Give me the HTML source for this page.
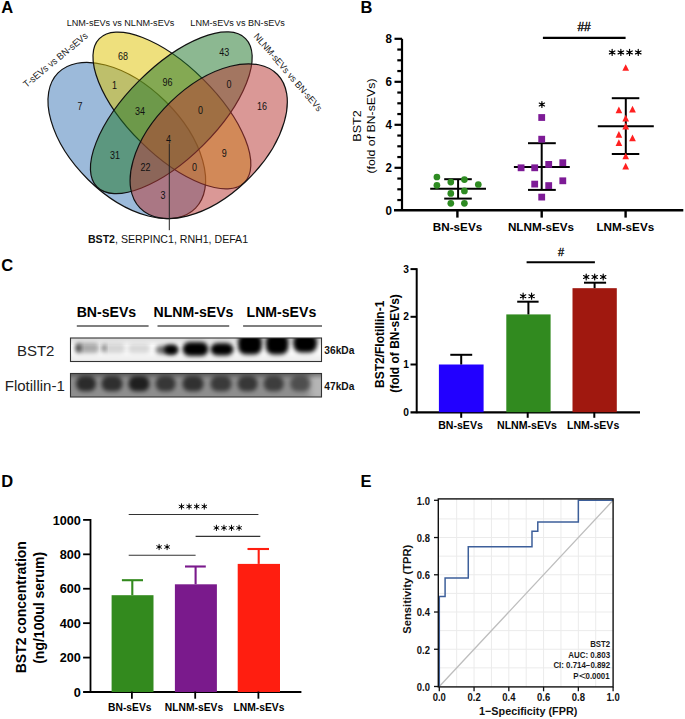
<!DOCTYPE html>
<html><head><meta charset="utf-8"><style>
html,body{margin:0;padding:0;background:#fff;}
svg{display:block;}
text{font-family:"Liberation Sans",sans-serif;}
</style></head><body>
<svg width="685" height="719" viewBox="0 0 685 719">
<rect width="685" height="719" fill="#fff"/>
<text x="1.20" y="13.20" font-size="16.5" font-weight="bold" text-anchor="start" fill="#000" >A</text>
<text x="360.50" y="13.20" font-size="16.5" font-weight="bold" text-anchor="start" fill="#000" >B</text>
<text x="1.20" y="270.80" font-size="16.5" font-weight="bold" text-anchor="start" fill="#000" >C</text>
<text x="1.20" y="487.30" font-size="16.5" font-weight="bold" text-anchor="start" fill="#000" >D</text>
<text x="360.50" y="486.80" font-size="16.5" font-weight="bold" text-anchor="start" fill="#000" >E</text>
<ellipse cx="126.80" cy="140.50" rx="96.40" ry="55.00" transform="rotate(44.5 126.80 140.50)" fill="rgb(66,122,184)" fill-opacity="0.52" stroke="#111" stroke-width="1.2"/>
<ellipse cx="171.90" cy="110.50" rx="102.10" ry="44.20" transform="rotate(44.7 171.90 110.50)" fill="rgb(222,195,5)" fill-opacity="0.52" stroke="#111" stroke-width="1.2"/>
<ellipse cx="171.30" cy="112.80" rx="105.00" ry="45.40" transform="rotate(-45.0 171.30 112.80)" fill="rgb(34,118,45)" fill-opacity="0.52" stroke="#111" stroke-width="1.2"/>
<ellipse cx="208.70" cy="141.20" rx="95.80" ry="54.70" transform="rotate(-44.1 208.70 141.20)" fill="rgb(184,57,53)" fill-opacity="0.52" stroke="#111" stroke-width="1.2"/>
<text x="0.00" y="0.00" font-size="10.2" text-anchor="middle" fill="#111" transform="translate(122.90,59.50) scale(0.88,1.06)" >68</text>
<text x="0.00" y="0.00" font-size="10.2" text-anchor="middle" fill="#111" transform="translate(224.30,56.10) scale(0.88,1.06)" >43</text>
<text x="0.00" y="0.00" font-size="10.2" text-anchor="middle" fill="#111" transform="translate(114.50,88.90) scale(0.88,1.06)" >1</text>
<text x="0.00" y="0.00" font-size="10.2" text-anchor="middle" fill="#111" transform="translate(167.60,85.80) scale(0.88,1.06)" >96</text>
<text x="0.00" y="0.00" font-size="10.2" text-anchor="middle" fill="#111" transform="translate(229.10,88.30) scale(0.88,1.06)" >0</text>
<text x="0.00" y="0.00" font-size="10.2" text-anchor="middle" fill="#111" transform="translate(79.90,109.90) scale(0.88,1.06)" >7</text>
<text x="0.00" y="0.00" font-size="10.2" text-anchor="middle" fill="#111" transform="translate(140.00,114.50) scale(0.88,1.06)" >34</text>
<text x="0.00" y="0.00" font-size="10.2" text-anchor="middle" fill="#111" transform="translate(200.50,114.10) scale(0.88,1.06)" >0</text>
<text x="0.00" y="0.00" font-size="10.2" text-anchor="middle" fill="#111" transform="translate(261.90,109.70) scale(0.88,1.06)" >16</text>
<text x="0.00" y="0.00" font-size="10.2" text-anchor="middle" fill="#111" transform="translate(168.60,142.50) scale(0.88,1.06)" >4</text>
<text x="0.00" y="0.00" font-size="10.2" text-anchor="middle" fill="#111" transform="translate(115.00,159.30) scale(0.88,1.06)" >31</text>
<text x="0.00" y="0.00" font-size="10.2" text-anchor="middle" fill="#111" transform="translate(145.50,170.70) scale(0.88,1.06)" >22</text>
<text x="0.00" y="0.00" font-size="10.2" text-anchor="middle" fill="#111" transform="translate(194.60,170.70) scale(0.88,1.06)" >0</text>
<text x="0.00" y="0.00" font-size="10.2" text-anchor="middle" fill="#111" transform="translate(224.30,156.90) scale(0.88,1.06)" >9</text>
<text x="0.00" y="0.00" font-size="10.2" text-anchor="middle" fill="#111" transform="translate(163.00,199.10) scale(0.88,1.06)" >3</text>
<text x="0.00" y="0.00" font-size="9.1" text-anchor="middle" fill="#111" transform="translate(120.50,26.40) scale(1,1.08)" >LNM-sEVs vs NLNM-sEVs</text>
<text x="0.00" y="0.00" font-size="9.1" text-anchor="middle" fill="#111" transform="translate(237.60,26.40) scale(1,1.08)" >LNM-sEVs vs BN-sEVs</text>
<text x="0.00" y="0.00" font-size="9.1" text-anchor="middle" fill="#222" transform="translate(57.50,62.50) rotate(-39.5) scale(1,1.05)" >T-sEVs vs BN-sEVs</text>
<text x="0.00" y="0.00" font-size="8.95" text-anchor="middle" fill="#222" transform="translate(285.60,74.40) rotate(49.3) scale(1,1.05)" >NLNM-sEVs vs BN-sEVs</text>
<line x1="169.30" y1="143.50" x2="169.30" y2="230.20" stroke="#222" stroke-width="1" />
<text x="168" y="242.8" font-size="10.6" text-anchor="middle" fill="#111"><tspan font-weight="bold">BST2</tspan>, SERPINC1, RNH1, DEFA1</text>
<line x1="402.00" y1="38.80" x2="402.00" y2="211.00" stroke="#000" stroke-width="2.2" />
<line x1="394.00" y1="210.20" x2="683.30" y2="210.20" stroke="#000" stroke-width="2.4" />
<line x1="394.50" y1="167.80" x2="402.00" y2="167.80" stroke="#000" stroke-width="2.2" />
<line x1="394.50" y1="124.80" x2="402.00" y2="124.80" stroke="#000" stroke-width="2.2" />
<line x1="394.50" y1="81.80" x2="402.00" y2="81.80" stroke="#000" stroke-width="2.2" />
<line x1="394.50" y1="38.80" x2="402.00" y2="38.80" stroke="#000" stroke-width="2.2" />
<line x1="397.30" y1="200.05" x2="402.00" y2="200.05" stroke="#000" stroke-width="2.2" />
<line x1="397.30" y1="189.30" x2="402.00" y2="189.30" stroke="#000" stroke-width="2.2" />
<line x1="397.30" y1="178.55" x2="402.00" y2="178.55" stroke="#000" stroke-width="2.2" />
<line x1="397.30" y1="157.05" x2="402.00" y2="157.05" stroke="#000" stroke-width="2.2" />
<line x1="397.30" y1="146.30" x2="402.00" y2="146.30" stroke="#000" stroke-width="2.2" />
<line x1="397.30" y1="135.55" x2="402.00" y2="135.55" stroke="#000" stroke-width="2.2" />
<line x1="397.30" y1="114.05" x2="402.00" y2="114.05" stroke="#000" stroke-width="2.2" />
<line x1="397.30" y1="103.30" x2="402.00" y2="103.30" stroke="#000" stroke-width="2.2" />
<line x1="397.30" y1="92.55" x2="402.00" y2="92.55" stroke="#000" stroke-width="2.2" />
<line x1="397.30" y1="71.05" x2="402.00" y2="71.05" stroke="#000" stroke-width="2.2" />
<line x1="397.30" y1="60.30" x2="402.00" y2="60.30" stroke="#000" stroke-width="2.2" />
<line x1="397.30" y1="49.55" x2="402.00" y2="49.55" stroke="#000" stroke-width="2.2" />
<text x="0.00" y="0.00" font-size="11.6" font-weight="bold" text-anchor="end" fill="#000" transform="translate(391.90,215.30) scale(1,1.17)" >0</text>
<text x="0.00" y="0.00" font-size="11.6" font-weight="bold" text-anchor="end" fill="#000" transform="translate(391.90,172.30) scale(1,1.17)" >2</text>
<text x="0.00" y="0.00" font-size="11.6" font-weight="bold" text-anchor="end" fill="#000" transform="translate(391.90,129.30) scale(1,1.17)" >4</text>
<text x="0.00" y="0.00" font-size="11.6" font-weight="bold" text-anchor="end" fill="#000" transform="translate(391.90,86.30) scale(1,1.17)" >6</text>
<text x="0.00" y="0.00" font-size="11.6" font-weight="bold" text-anchor="end" fill="#000" transform="translate(391.90,43.30) scale(1,1.17)" >8</text>
<line x1="457.40" y1="210.00" x2="457.40" y2="217.60" stroke="#000" stroke-width="2.4" />
<line x1="541.70" y1="210.00" x2="541.70" y2="217.60" stroke="#000" stroke-width="2.4" />
<line x1="625.60" y1="210.00" x2="625.60" y2="217.60" stroke="#000" stroke-width="2.4" />
<text x="457.50" y="231.20" font-size="11.7" font-weight="bold" text-anchor="middle" fill="#000" >BN-sEVs</text>
<text x="541.00" y="231.20" font-size="11.7" font-weight="bold" text-anchor="middle" fill="#000" >NLNM-sEVs</text>
<text x="625.30" y="231.20" font-size="11.7" font-weight="bold" text-anchor="middle" fill="#000" >LNM-sEVs</text>
<text x="0.00" y="0.00" font-size="12" text-anchor="middle" fill="#000" transform="translate(361.30,126.00) rotate(-90) scale(1.05,0.97)" >BST2</text>
<text x="0.00" y="0.00" font-size="12" text-anchor="middle" fill="#000" transform="translate(374.70,126.00) rotate(-90) scale(1.026,0.91)" >(fold of BN-sEVs)</text>
<line x1="430.20" y1="188.80" x2="486.00" y2="188.80" stroke="#000" stroke-width="2" />
<line x1="444.20" y1="179.20" x2="471.80" y2="179.20" stroke="#000" stroke-width="2" />
<line x1="444.20" y1="198.60" x2="471.80" y2="198.60" stroke="#000" stroke-width="2" />
<line x1="458.10" y1="179.20" x2="458.10" y2="198.60" stroke="#000" stroke-width="2" />
<line x1="513.90" y1="166.90" x2="569.80" y2="166.90" stroke="#000" stroke-width="2" />
<line x1="528.00" y1="143.20" x2="555.80" y2="143.20" stroke="#000" stroke-width="2" />
<line x1="528.00" y1="189.90" x2="555.80" y2="189.90" stroke="#000" stroke-width="2" />
<line x1="541.70" y1="143.20" x2="541.70" y2="189.90" stroke="#000" stroke-width="2" />
<line x1="597.80" y1="126.20" x2="653.80" y2="126.20" stroke="#000" stroke-width="2" />
<line x1="611.80" y1="98.20" x2="639.30" y2="98.20" stroke="#000" stroke-width="2" />
<line x1="611.80" y1="154.00" x2="639.30" y2="154.00" stroke="#000" stroke-width="2" />
<line x1="625.80" y1="98.20" x2="625.80" y2="154.00" stroke="#000" stroke-width="2" />
<circle cx="436.9" cy="177.0" r="3.35" fill="#2e8b22"/>
<circle cx="436.9" cy="185.3" r="3.35" fill="#2e8b22"/>
<circle cx="450.8" cy="182.1" r="3.35" fill="#2e8b22"/>
<circle cx="450.8" cy="193.4" r="3.35" fill="#2e8b22"/>
<circle cx="450.8" cy="203.3" r="3.35" fill="#2e8b22"/>
<circle cx="464.4" cy="179.6" r="3.35" fill="#2e8b22"/>
<circle cx="464.4" cy="190.9" r="3.35" fill="#2e8b22"/>
<circle cx="464.4" cy="203.3" r="3.35" fill="#2e8b22"/>
<circle cx="478.3" cy="184.5" r="3.35" fill="#2e8b22"/>
<rect x="538.30" y="114.10" width="6.8" height="6.8" fill="#7d1a96"/>
<rect x="538.30" y="135.80" width="6.8" height="6.8" fill="#7d1a96"/>
<rect x="517.70" y="164.40" width="6.8" height="6.8" fill="#7d1a96"/>
<rect x="531.30" y="164.40" width="6.8" height="6.8" fill="#7d1a96"/>
<rect x="545.30" y="161.00" width="6.8" height="6.8" fill="#7d1a96"/>
<rect x="531.30" y="180.70" width="6.8" height="6.8" fill="#7d1a96"/>
<rect x="545.30" y="182.20" width="6.8" height="6.8" fill="#7d1a96"/>
<rect x="538.30" y="193.70" width="6.8" height="6.8" fill="#7d1a96"/>
<rect x="559.40" y="159.30" width="6.8" height="6.8" fill="#7d1a96"/>
<rect x="559.40" y="177.40" width="6.8" height="6.8" fill="#7d1a96"/>
<polygon points="625.70,64.15 629.05,70.85 622.35,70.85" fill="#ff2020"/>
<polygon points="618.90,106.45 622.25,113.15 615.55,113.15" fill="#ff2020"/>
<polygon points="632.50,105.75 635.85,112.45 629.15,112.45" fill="#ff2020"/>
<polygon points="625.70,114.85 629.05,121.55 622.35,121.55" fill="#ff2020"/>
<polygon points="625.70,122.85 629.05,129.55 622.35,129.55" fill="#ff2020"/>
<polygon points="618.90,131.05 622.25,137.75 615.55,137.75" fill="#ff2020"/>
<polygon points="632.50,134.45 635.85,141.15 629.15,141.15" fill="#ff2020"/>
<polygon points="618.90,139.35 622.25,146.05 615.55,146.05" fill="#ff2020"/>
<polygon points="625.70,152.65 629.05,159.35 622.35,159.35" fill="#ff2020"/>
<polygon points="625.70,162.85 629.05,169.55 622.35,169.55" fill="#ff2020"/>
<path d="M541.90,101.50L541.90,107.50M539.25,103.09L544.55,105.91M544.55,103.09L539.25,105.91" stroke="#000" stroke-width="1.19" stroke-linecap="round" fill="none"/>
<circle cx="541.90" cy="104.50" r="1.26" fill="#000"/>
<path d="M612.15,49.30L612.15,55.50M609.41,50.94L614.89,53.86M614.89,50.94L609.41,53.86" stroke="#000" stroke-width="1.19" stroke-linecap="round" fill="none"/>
<circle cx="612.15" cy="52.40" r="1.30" fill="#000"/>
<path d="M620.85,49.30L620.85,55.50M618.11,50.94L623.59,53.86M623.59,50.94L618.11,53.86" stroke="#000" stroke-width="1.19" stroke-linecap="round" fill="none"/>
<circle cx="620.85" cy="52.40" r="1.30" fill="#000"/>
<path d="M629.55,49.30L629.55,55.50M626.81,50.94L632.29,53.86M632.29,50.94L626.81,53.86" stroke="#000" stroke-width="1.19" stroke-linecap="round" fill="none"/>
<circle cx="629.55" cy="52.40" r="1.30" fill="#000"/>
<path d="M638.25,49.30L638.25,55.50M635.51,50.94L640.99,53.86M640.99,50.94L635.51,53.86" stroke="#000" stroke-width="1.19" stroke-linecap="round" fill="none"/>
<circle cx="638.25" cy="52.40" r="1.30" fill="#000"/>
<line x1="542.90" y1="37.90" x2="625.60" y2="37.90" stroke="#000" stroke-width="2.1" />
<text x="584.10" y="30.60" font-size="12" text-anchor="middle" fill="#000" stroke="#000" stroke-width="0.35">##</text>
<text x="106.40" y="317.30" font-size="14.1" font-weight="bold" text-anchor="middle" fill="#000" >BN-sEVs</text>
<text x="193.50" y="317.30" font-size="14.1" font-weight="bold" text-anchor="middle" fill="#000" >NLNM-sEVs</text>
<text x="281.40" y="317.30" font-size="14.1" font-weight="bold" text-anchor="middle" fill="#000" >LNM-sEVs</text>
<line x1="76.80" y1="326.00" x2="148.60" y2="326.00" stroke="#555" stroke-width="1.3" />
<line x1="157.50" y1="326.00" x2="229.20" y2="326.00" stroke="#555" stroke-width="1.3" />
<line x1="243.10" y1="326.00" x2="322.00" y2="326.00" stroke="#555" stroke-width="1.3" />
<text x="35.70" y="355.60" font-size="15" text-anchor="middle" fill="#222" >BST2</text>
<text x="34.80" y="391.20" font-size="15" text-anchor="middle" fill="#222" >Flotillin-1</text>
<text x="324.30" y="353.60" font-size="10.2" font-weight="bold" text-anchor="start" fill="#111" >36kDa</text>
<text x="324.30" y="390.10" font-size="10.2" font-weight="bold" text-anchor="start" fill="#111" >47kDa</text>
<defs><filter id="bl" x="-50%" y="-50%" width="200%" height="200%"><feGaussianBlur stdDeviation="1.9"/></filter><filter id="bl2" x="-50%" y="-50%" width="200%" height="200%"><feGaussianBlur stdDeviation="2.0"/></filter><filter id="bl3" x="-50%" y="-50%" width="200%" height="200%"><feGaussianBlur stdDeviation="3.5"/></filter><clipPath id="c1"><rect x="70.5" y="338" width="251" height="23.5"/></clipPath><clipPath id="c2"><rect x="70.5" y="373.5" width="251" height="23.5"/></clipPath></defs>
<rect x="70.50" y="338.00" width="251.00" height="23.50" fill="#fdfdfd" />
<g clip-path="url(#c1)">
<rect x="60.0" y="333.0" width="270.0" height="8.0" rx="2" fill="#000" fill-opacity="0.18" filter="url(#bl3)"/>
<rect x="60.0" y="356.0" width="270.0" height="10.0" rx="2" fill="#000" fill-opacity="0.07" filter="url(#bl3)"/>
<rect x="76.0" y="343.0" width="23.0" height="10.0" rx="4" fill="#000" fill-opacity="0.33" filter="url(#bl)"/>
<rect x="75.5" y="343.5" width="5.5" height="9.0" rx="4" fill="#000" fill-opacity="0.6" filter="url(#bl)"/>
<rect x="102.0" y="343.5" width="23.0" height="9.5" rx="4" fill="#000" fill-opacity="0.16" filter="url(#bl)"/>
<rect x="102.0" y="344.0" width="4.0" height="8.0" rx="4" fill="#000" fill-opacity="0.45" filter="url(#bl)"/>
<rect x="128.0" y="344.0" width="22.0" height="9.0" rx="4" fill="#000" fill-opacity="0.15" filter="url(#bl)"/>
<rect x="155.5" y="345.5" width="22.5" height="8.5" rx="5" fill="#000" fill-opacity="0.55" filter="url(#bl)"/>
<rect x="164.0" y="345.0" width="14.0" height="9.5" rx="5" fill="#000" fill-opacity="1.0" filter="url(#bl)"/>
<rect x="182.5" y="342.0" width="26.0" height="14.0" rx="7" fill="#000" fill-opacity="1.0" filter="url(#bl)"/>
<rect x="210.5" y="343.0" width="23.0" height="12.5" rx="7" fill="#000" fill-opacity="1.0" filter="url(#bl)"/>
<rect x="238.0" y="334.0" width="24.0" height="20.5" rx="8" fill="#000" fill-opacity="1.0" filter="url(#bl)"/>
<rect x="265.7" y="334.0" width="22.8" height="20.5" rx="8" fill="#000" fill-opacity="1.0" filter="url(#bl)"/>
<rect x="293.2" y="334.0" width="23.8" height="18.5" rx="8" fill="#000" fill-opacity="1.0" filter="url(#bl)"/>
</g>
<rect x="70.5" y="338" width="251" height="23.5" fill="none" stroke="#333" stroke-width="1.1"/>
<rect x="70.50" y="373.50" width="251.00" height="23.50" fill="#8e8e8e" />
<g clip-path="url(#c2)">
<rect x="310.0" y="370.0" width="20.0" height="30.0" rx="4" fill="#fff" fill-opacity="0.35" filter="url(#bl3)"/>
<rect x="60.0" y="370.0" width="270.0" height="6.5" rx="1" fill="#000" fill-opacity="0.35" filter="url(#bl)"/>
<rect x="76.0" y="376.0" width="20.0" height="15.2" rx="7" fill="#080808" fill-opacity="0.697" filter="url(#bl2)"/>
<rect x="101.5" y="376.0" width="21.0" height="15.2" rx="7" fill="#080808" fill-opacity="0.6723999999999999" filter="url(#bl2)"/>
<rect x="128.5" y="376.0" width="21.0" height="15.2" rx="7" fill="#080808" fill-opacity="0.7789999999999999" filter="url(#bl2)"/>
<rect x="155.6" y="376.0" width="20.0" height="15.2" rx="7" fill="#080808" fill-opacity="0.615" filter="url(#bl2)"/>
<rect x="182.5" y="376.0" width="21.0" height="15.2" rx="7" fill="#080808" fill-opacity="0.656" filter="url(#bl2)"/>
<rect x="210.5" y="376.0" width="21.0" height="15.2" rx="7" fill="#080808" fill-opacity="0.5903999999999999" filter="url(#bl2)"/>
<rect x="237.6" y="376.0" width="20.0" height="15.2" rx="7" fill="#080808" fill-opacity="0.615" filter="url(#bl2)"/>
<rect x="263.7" y="376.0" width="20.0" height="15.2" rx="7" fill="#080808" fill-opacity="0.574" filter="url(#bl2)"/>
<rect x="290.3" y="376.0" width="20.0" height="15.2" rx="7" fill="#080808" fill-opacity="0.451" filter="url(#bl2)"/>
</g>
<rect x="70.5" y="373.5" width="251" height="23.5" fill="none" stroke="#333" stroke-width="1.1"/>
<line x1="416.70" y1="268.20" x2="416.70" y2="413.20" stroke="#000" stroke-width="2" />
<line x1="410.50" y1="412.30" x2="640.00" y2="412.30" stroke="#000" stroke-width="2.2" />
<line x1="410.50" y1="364.50" x2="416.70" y2="364.50" stroke="#000" stroke-width="2" />
<line x1="410.50" y1="316.80" x2="416.70" y2="316.80" stroke="#000" stroke-width="2" />
<line x1="410.50" y1="269.10" x2="416.70" y2="269.10" stroke="#000" stroke-width="2" />
<text x="409.00" y="415.80" font-size="10.2" font-weight="bold" text-anchor="end" fill="#000" >0</text>
<text x="409.00" y="368.10" font-size="10.2" font-weight="bold" text-anchor="end" fill="#000" >1</text>
<text x="409.00" y="320.40" font-size="10.2" font-weight="bold" text-anchor="end" fill="#000" >2</text>
<text x="409.00" y="272.70" font-size="10.2" font-weight="bold" text-anchor="end" fill="#000" >3</text>
<rect x="438.90" y="364.50" width="44.70" height="47.70" fill="#2200ff" />
<rect x="506.30" y="314.41" width="44.30" height="97.79" fill="#318a1f" />
<rect x="572.50" y="288.18" width="44.30" height="124.02" fill="#a0180f" />
<line x1="461.20" y1="364.50" x2="461.20" y2="354.80" stroke="#000" stroke-width="2" />
<line x1="450.30" y1="354.80" x2="472.20" y2="354.80" stroke="#000" stroke-width="2" />
<line x1="528.40" y1="314.41" x2="528.40" y2="301.70" stroke="#000" stroke-width="2" />
<line x1="517.20" y1="301.70" x2="538.60" y2="301.70" stroke="#000" stroke-width="2" />
<line x1="594.60" y1="288.18" x2="594.60" y2="282.70" stroke="#000" stroke-width="2" />
<line x1="584.00" y1="282.70" x2="606.10" y2="282.70" stroke="#000" stroke-width="2" />
<line x1="461.20" y1="412.00" x2="461.20" y2="417.80" stroke="#000" stroke-width="2" />
<line x1="527.70" y1="412.00" x2="527.70" y2="417.80" stroke="#000" stroke-width="2" />
<line x1="594.30" y1="412.00" x2="594.30" y2="417.80" stroke="#000" stroke-width="2" />
<text x="0.00" y="0.00" font-size="10.6" font-weight="bold" text-anchor="middle" fill="#000" transform="translate(460.50,429.20) scale(1,1.06)" >BN-sEVs</text>
<text x="0.00" y="0.00" font-size="10.6" font-weight="bold" text-anchor="middle" fill="#000" transform="translate(527.00,429.20) scale(1,1.06)" >NLNM-sEVs</text>
<text x="0.00" y="0.00" font-size="10.6" font-weight="bold" text-anchor="middle" fill="#000" transform="translate(593.10,429.20) scale(1,1.06)" >LNM-sEVs</text>
<text x="0.00" y="0.00" font-size="12" font-weight="bold" text-anchor="middle" fill="#000" transform="translate(384.0,344.3) rotate(-90)">BST2/Flotillin-1</text>
<text x="0.00" y="0.00" font-size="12" font-weight="bold" text-anchor="middle" fill="#000" transform="translate(399.0,343.5) rotate(-90)">(fold of BN-sEVs)</text>
<path d="M523.10,293.20L523.10,299.20M520.45,294.79L525.75,297.61M525.75,294.79L520.45,297.61" stroke="#000" stroke-width="1.19" stroke-linecap="round" fill="none"/>
<circle cx="523.10" cy="296.20" r="1.26" fill="#000"/>
<path d="M531.60,293.20L531.60,299.20M528.95,294.79L534.25,297.61M534.25,294.79L528.95,297.61" stroke="#000" stroke-width="1.19" stroke-linecap="round" fill="none"/>
<circle cx="531.60" cy="296.20" r="1.26" fill="#000"/>
<path d="M586.20,274.00L586.20,280.00M583.55,275.59L588.85,278.41M588.85,275.59L583.55,278.41" stroke="#000" stroke-width="1.19" stroke-linecap="round" fill="none"/>
<circle cx="586.20" cy="277.00" r="1.26" fill="#000"/>
<path d="M594.70,274.00L594.70,280.00M592.05,275.59L597.35,278.41M597.35,275.59L592.05,278.41" stroke="#000" stroke-width="1.19" stroke-linecap="round" fill="none"/>
<circle cx="594.70" cy="277.00" r="1.26" fill="#000"/>
<path d="M603.20,274.00L603.20,280.00M600.55,275.59L605.85,278.41M605.85,275.59L600.55,278.41" stroke="#000" stroke-width="1.19" stroke-linecap="round" fill="none"/>
<circle cx="603.20" cy="277.00" r="1.26" fill="#000"/>
<line x1="526.60" y1="262.30" x2="594.90" y2="262.30" stroke="#000" stroke-width="2" />
<text x="561.00" y="255.60" font-size="11" text-anchor="middle" fill="#000" stroke="#000" stroke-width="0.3">#</text>
<line x1="90.50" y1="519.00" x2="90.50" y2="692.80" stroke="#000" stroke-width="1.8" />
<line x1="83.10" y1="692.00" x2="301.40" y2="692.00" stroke="#000" stroke-width="1.8" />
<line x1="83.10" y1="657.58" x2="90.50" y2="657.58" stroke="#000" stroke-width="1.8" />
<line x1="83.10" y1="623.16" x2="90.50" y2="623.16" stroke="#000" stroke-width="1.8" />
<line x1="83.10" y1="588.74" x2="90.50" y2="588.74" stroke="#000" stroke-width="1.8" />
<line x1="83.10" y1="554.32" x2="90.50" y2="554.32" stroke="#000" stroke-width="1.8" />
<line x1="83.10" y1="519.90" x2="90.50" y2="519.90" stroke="#000" stroke-width="1.8" />
<text x="80.90" y="696.60" font-size="12.7" font-weight="bold" text-anchor="end" fill="#000" >0</text>
<text x="80.90" y="662.18" font-size="12.7" font-weight="bold" text-anchor="end" fill="#000" >200</text>
<text x="80.90" y="627.76" font-size="12.7" font-weight="bold" text-anchor="end" fill="#000" >400</text>
<text x="80.90" y="593.34" font-size="12.7" font-weight="bold" text-anchor="end" fill="#000" >600</text>
<text x="80.90" y="558.92" font-size="12.7" font-weight="bold" text-anchor="end" fill="#000" >800</text>
<text x="80.90" y="524.50" font-size="12.7" font-weight="bold" text-anchor="end" fill="#000" >1000</text>
<rect x="111.60" y="595.20" width="41.90" height="96.80" fill="#338a1e" />
<rect x="174.90" y="584.30" width="42.00" height="107.70" fill="#7a1a8c" />
<rect x="237.70" y="563.90" width="42.30" height="128.10" fill="#ff1e10" />
<line x1="132.30" y1="595.20" x2="132.30" y2="580.20" stroke="#338a1e" stroke-width="2.1" />
<line x1="121.90" y1="580.20" x2="143.00" y2="580.20" stroke="#338a1e" stroke-width="2.1" />
<line x1="195.60" y1="584.30" x2="195.60" y2="566.50" stroke="#7a1a8c" stroke-width="2.1" />
<line x1="185.00" y1="566.50" x2="205.80" y2="566.50" stroke="#7a1a8c" stroke-width="2.1" />
<line x1="258.70" y1="563.90" x2="258.70" y2="549.00" stroke="#ff1e10" stroke-width="2.1" />
<line x1="247.50" y1="549.00" x2="269.00" y2="549.00" stroke="#ff1e10" stroke-width="2.1" />
<line x1="131.90" y1="691.50" x2="131.90" y2="698.70" stroke="#000" stroke-width="1.8" />
<line x1="195.20" y1="691.50" x2="195.20" y2="698.70" stroke="#000" stroke-width="1.8" />
<line x1="258.40" y1="691.50" x2="258.40" y2="698.70" stroke="#000" stroke-width="1.8" />
<text x="0.00" y="0.00" font-size="10.3" font-weight="bold" text-anchor="middle" fill="#000" transform="translate(129.80,710.80) scale(1,1.07)" >BN-sEVs</text>
<text x="0.00" y="0.00" font-size="10.3" font-weight="bold" text-anchor="middle" fill="#000" transform="translate(194.00,710.80) scale(1,1.07)" >NLNM-sEVs</text>
<text x="0.00" y="0.00" font-size="10.3" font-weight="bold" text-anchor="middle" fill="#000" transform="translate(259.00,710.80) scale(1,1.07)" >LNM-sEVs</text>
<text x="0.00" y="0.00" font-size="14" font-weight="bold" text-anchor="middle" fill="#000" transform="translate(25.8,607.2) rotate(-90)">BST2 concentration</text>
<text x="0.00" y="0.00" font-size="14" font-weight="bold" text-anchor="middle" fill="#000" transform="translate(43.7,607.8) rotate(-90)">(ng/100ul serum)</text>
<line x1="128.70" y1="555.30" x2="195.60" y2="555.30" stroke="#333" stroke-width="1.1" />
<path d="M159.10,544.30L159.10,549.70M156.72,545.73L161.48,548.27M161.48,545.73L156.72,548.27" stroke="#000" stroke-width="0.94" stroke-linecap="round" fill="none"/>
<circle cx="159.10" cy="547.00" r="1.13" fill="#000"/>
<path d="M167.10,544.30L167.10,549.70M164.72,545.73L169.48,548.27M169.48,545.73L164.72,548.27" stroke="#000" stroke-width="0.94" stroke-linecap="round" fill="none"/>
<circle cx="167.10" cy="547.00" r="1.13" fill="#000"/>
<line x1="128.70" y1="514.50" x2="258.40" y2="514.50" stroke="#333" stroke-width="1.1" />
<path d="M181.50,503.80L181.50,509.20M179.12,505.23L183.88,507.77M183.88,505.23L179.12,507.77" stroke="#000" stroke-width="0.94" stroke-linecap="round" fill="none"/>
<circle cx="181.50" cy="506.50" r="1.13" fill="#000"/>
<path d="M189.10,503.80L189.10,509.20M186.72,505.23L191.48,507.77M191.48,505.23L186.72,507.77" stroke="#000" stroke-width="0.94" stroke-linecap="round" fill="none"/>
<circle cx="189.10" cy="506.50" r="1.13" fill="#000"/>
<path d="M196.70,503.80L196.70,509.20M194.32,505.23L199.08,507.77M199.08,505.23L194.32,507.77" stroke="#000" stroke-width="0.94" stroke-linecap="round" fill="none"/>
<circle cx="196.70" cy="506.50" r="1.13" fill="#000"/>
<path d="M204.30,503.80L204.30,509.20M201.92,505.23L206.68,507.77M206.68,505.23L201.92,507.77" stroke="#000" stroke-width="0.94" stroke-linecap="round" fill="none"/>
<circle cx="204.30" cy="506.50" r="1.13" fill="#000"/>
<line x1="195.60" y1="536.40" x2="260.30" y2="536.40" stroke="#333" stroke-width="1.1" />
<path d="M216.43,525.20L216.43,530.60M214.04,526.63L218.81,529.17M218.81,526.63L214.04,529.17" stroke="#000" stroke-width="0.94" stroke-linecap="round" fill="none"/>
<circle cx="216.43" cy="527.90" r="1.13" fill="#000"/>
<path d="M223.98,525.20L223.98,530.60M221.59,526.63L226.36,529.17M226.36,526.63L221.59,529.17" stroke="#000" stroke-width="0.94" stroke-linecap="round" fill="none"/>
<circle cx="223.98" cy="527.90" r="1.13" fill="#000"/>
<path d="M231.53,525.20L231.53,530.60M229.14,526.63L233.91,529.17M233.91,526.63L229.14,529.17" stroke="#000" stroke-width="0.94" stroke-linecap="round" fill="none"/>
<circle cx="231.53" cy="527.90" r="1.13" fill="#000"/>
<path d="M239.08,525.20L239.08,530.60M236.69,526.63L241.46,529.17M241.46,526.63L236.69,529.17" stroke="#000" stroke-width="0.94" stroke-linecap="round" fill="none"/>
<circle cx="239.08" cy="527.90" r="1.13" fill="#000"/>
<line x1="456.68" y1="498.80" x2="456.68" y2="687.00" stroke="#ebebeb" stroke-width="1" />
<line x1="438.50" y1="667.88" x2="613.00" y2="667.88" stroke="#ebebeb" stroke-width="1" />
<line x1="474.06" y1="498.80" x2="474.06" y2="687.00" stroke="#ebebeb" stroke-width="1" />
<line x1="438.50" y1="649.26" x2="613.00" y2="649.26" stroke="#ebebeb" stroke-width="1" />
<line x1="491.44" y1="498.80" x2="491.44" y2="687.00" stroke="#ebebeb" stroke-width="1" />
<line x1="438.50" y1="630.64" x2="613.00" y2="630.64" stroke="#ebebeb" stroke-width="1" />
<line x1="508.82" y1="498.80" x2="508.82" y2="687.00" stroke="#ebebeb" stroke-width="1" />
<line x1="438.50" y1="612.02" x2="613.00" y2="612.02" stroke="#ebebeb" stroke-width="1" />
<line x1="526.20" y1="498.80" x2="526.20" y2="687.00" stroke="#ebebeb" stroke-width="1" />
<line x1="438.50" y1="593.40" x2="613.00" y2="593.40" stroke="#ebebeb" stroke-width="1" />
<line x1="543.58" y1="498.80" x2="543.58" y2="687.00" stroke="#ebebeb" stroke-width="1" />
<line x1="438.50" y1="574.78" x2="613.00" y2="574.78" stroke="#ebebeb" stroke-width="1" />
<line x1="560.96" y1="498.80" x2="560.96" y2="687.00" stroke="#ebebeb" stroke-width="1" />
<line x1="438.50" y1="556.16" x2="613.00" y2="556.16" stroke="#ebebeb" stroke-width="1" />
<line x1="578.34" y1="498.80" x2="578.34" y2="687.00" stroke="#ebebeb" stroke-width="1" />
<line x1="438.50" y1="537.54" x2="613.00" y2="537.54" stroke="#ebebeb" stroke-width="1" />
<line x1="595.72" y1="498.80" x2="595.72" y2="687.00" stroke="#ebebeb" stroke-width="1" />
<line x1="438.50" y1="518.92" x2="613.00" y2="518.92" stroke="#ebebeb" stroke-width="1" />
<line x1="439.30" y1="686.50" x2="613.10" y2="500.30" stroke="#bdbdbd" stroke-width="1.3" />
<path d="M439.30,686.50 L439.30,596.50 L445.09,596.50 L445.09,577.88 L468.27,577.88 L468.27,546.85 L531.99,546.85 L531.99,531.33 L537.79,531.33 L537.79,522.02 L578.34,522.02 L578.34,500.30 L613.10,500.30" fill="none" stroke="#3d5f9a" stroke-width="1.5"/>
<rect x="438.3" y="498.9" width="174.8" height="188" fill="none" stroke="#111" stroke-width="1.4"/>
<line x1="434.00" y1="686.50" x2="438.30" y2="686.50" stroke="#111" stroke-width="1.3" />
<text x="0.00" y="0.00" font-size="11" font-weight="bold" text-anchor="end" fill="#111" transform="translate(429.9,690.90) scale(0.86,1)">0.0</text>
<line x1="439.30" y1="686.90" x2="439.30" y2="691.30" stroke="#111" stroke-width="1.3" />
<text x="0.00" y="0.00" font-size="10" font-weight="bold" text-anchor="middle" fill="#111" transform="translate(439.30,700.8) scale(0.95,1)">0.0</text>
<line x1="434.00" y1="649.26" x2="438.30" y2="649.26" stroke="#111" stroke-width="1.3" />
<text x="0.00" y="0.00" font-size="11" font-weight="bold" text-anchor="end" fill="#111" transform="translate(429.9,653.66) scale(0.86,1)">0.2</text>
<line x1="474.06" y1="686.90" x2="474.06" y2="691.30" stroke="#111" stroke-width="1.3" />
<text x="0.00" y="0.00" font-size="10" font-weight="bold" text-anchor="middle" fill="#111" transform="translate(474.06,700.8) scale(0.95,1)">0.2</text>
<line x1="434.00" y1="612.02" x2="438.30" y2="612.02" stroke="#111" stroke-width="1.3" />
<text x="0.00" y="0.00" font-size="11" font-weight="bold" text-anchor="end" fill="#111" transform="translate(429.9,616.42) scale(0.86,1)">0.4</text>
<line x1="508.82" y1="686.90" x2="508.82" y2="691.30" stroke="#111" stroke-width="1.3" />
<text x="0.00" y="0.00" font-size="10" font-weight="bold" text-anchor="middle" fill="#111" transform="translate(508.82,700.8) scale(0.95,1)">0.4</text>
<line x1="434.00" y1="574.78" x2="438.30" y2="574.78" stroke="#111" stroke-width="1.3" />
<text x="0.00" y="0.00" font-size="11" font-weight="bold" text-anchor="end" fill="#111" transform="translate(429.9,579.18) scale(0.86,1)">0.6</text>
<line x1="543.58" y1="686.90" x2="543.58" y2="691.30" stroke="#111" stroke-width="1.3" />
<text x="0.00" y="0.00" font-size="10" font-weight="bold" text-anchor="middle" fill="#111" transform="translate(543.58,700.8) scale(0.95,1)">0.6</text>
<line x1="434.00" y1="537.54" x2="438.30" y2="537.54" stroke="#111" stroke-width="1.3" />
<text x="0.00" y="0.00" font-size="11" font-weight="bold" text-anchor="end" fill="#111" transform="translate(429.9,541.94) scale(0.86,1)">0.8</text>
<line x1="578.34" y1="686.90" x2="578.34" y2="691.30" stroke="#111" stroke-width="1.3" />
<text x="0.00" y="0.00" font-size="10" font-weight="bold" text-anchor="middle" fill="#111" transform="translate(578.34,700.8) scale(0.95,1)">0.8</text>
<line x1="434.00" y1="500.30" x2="438.30" y2="500.30" stroke="#111" stroke-width="1.3" />
<text x="0.00" y="0.00" font-size="11" font-weight="bold" text-anchor="end" fill="#111" transform="translate(429.9,504.70) scale(0.86,1)">1.0</text>
<line x1="613.10" y1="686.90" x2="613.10" y2="691.30" stroke="#111" stroke-width="1.3" />
<text x="0.00" y="0.00" font-size="10" font-weight="bold" text-anchor="middle" fill="#111" transform="translate(613.10,700.8) scale(0.95,1)">1.0</text>
<text x="528.15" y="715.00" font-size="11.2" font-weight="bold" text-anchor="middle" fill="#111" textLength="98.3" lengthAdjust="spacingAndGlyphs">1−Specificity (FPR)</text>
<text x="0.00" y="0.00" font-size="11.2" font-weight="bold" text-anchor="middle" fill="#111" transform="translate(410.6,589.2) rotate(-90)">Sensitivity (TPR)</text>
<text x="0.00" y="0.00" font-size="8.3" font-weight="bold" text-anchor="end" fill="#1a1a1a" transform="translate(610.1,647.00) scale(0.94,1)">BST2</text>
<text x="0.00" y="0.00" font-size="8.3" font-weight="bold" text-anchor="end" fill="#1a1a1a" transform="translate(610.1,657.60) scale(0.958,1)">AUC: 0.803</text>
<text x="0.00" y="0.00" font-size="8.3" font-weight="bold" text-anchor="end" fill="#1a1a1a" transform="translate(610.1,668.20) scale(0.951,1)">CI: 0.714−0.892</text>
<text x="0.00" y="0.00" font-size="8.3" font-weight="bold" text-anchor="end" fill="#1a1a1a" transform="translate(609.6,678.80) scale(0.95,1)">0.0001</text>
<text x="0.00" y="0.00" font-size="8.3" font-weight="bold" text-anchor="start" fill="#1a1a1a" transform="translate(573.3,678.80) scale(0.95,1)">P</text>
<path d="M585.6,673.50 L579.6,675.90 L585.6,678.30" fill="none" stroke="#1a1a1a" stroke-width="0.9"/>
</svg>
</body></html>
